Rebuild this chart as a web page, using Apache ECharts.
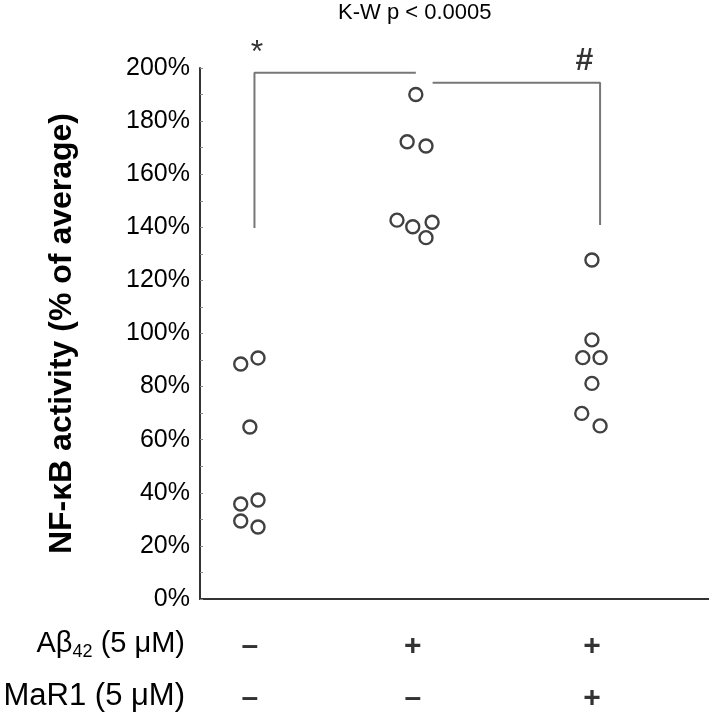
<!DOCTYPE html>
<html>
<head>
<meta charset="utf-8">
<script src="https://cdn.jsdelivr.net/npm/echarts@6/dist/echarts.min.js"></script>
<style>html,body{margin:0;padding:0;background:#fff}#c{width:709px;height:718px}</style>
</head>
<body>
<div id="c"></div>
<script>
// Data (y in % of average; x = jittered horizontal position on a 0-10 scale)
const group1X = [0.80, 1.14, 0.98, 0.80, 1.14, 0.80, 1.14];
const group1Y = [88.5, 90.8, 64.8, 35.8, 37.3, 29.4, 27.1];
const group2X = [4.24, 4.07, 4.44, 3.87, 4.18, 4.56, 4.44];
const group2Y = [190.0, 172.2, 170.6, 142.7, 140.2, 141.9, 136.1];
const group3X = [7.70, 7.70, 7.52, 7.86, 7.70, 7.50, 7.86];
const group3Y = [127.7, 97.6, 90.9, 90.9, 81.2, 69.9, 65.2];
const groupCenters = [0.98, 4.18, 7.70];
const abetaRow = ['–', '+', '+'];
const mar1Row = ['–', '–', '+'];
const yTicks = [0, 20, 40, 60, 80, 100, 120, 140, 160, 180, 200];
const bracketLeft = [[1.07, 139.7], [1.07, 198.2], [4.24, 198.2]];
const bracketRight = [[4.57, 194.4], [7.86, 194.4], [7.86, 140.9]];
const marks = [{x: 1.12, y: 205.5, t: '*', w: 'normal'}, {x: 7.55, y: 202.5, t: '#', w: 'bold'}];

const font = 'Liberation Sans, Arial, sans-serif';
const chart = echarts.init(document.getElementById('c'));
const zip = (xs, ys) => xs.map((x, i) => [x, ys[i]]);

const option = {
  animation: false,
  grid: {left: 200, right: 0, top: 68, bottom: 119, containLabel: false},
  xAxis: {
    type: 'value', min: 0, max: 10,
    axisLine: {show: true, onZero: false, lineStyle: {color: '#333', width: 2}},
    axisTick: {show: false}, axisLabel: {show: false}, splitLine: {show: false}
  },
  yAxis: {
    type: 'value', min: 0, max: 200, interval: 20,
    name: 'NF-κB activity (% of average)',
    nameLocation: 'middle', nameGap: 122, nameRotate: 90,
    nameTextStyle: {fontFamily: font, fontWeight: 'bold', fontSize: 32, color: '#000'},
    axisLine: {show: true, lineStyle: {color: '#333', width: 2}},
    axisTick: {show: true, inside: true, length: 3, lineStyle: {color: '#888', width: 1}},
    minorTick: {show: true, splitNumber: 2, length: 3, lineStyle: {color: '#888', width: 1}},
    axisLabel: {fontFamily: font, fontSize: 25, color: '#000', margin: 10, formatter: v => yTicks.includes(v) ? v + '%' : ''},
    splitLine: {show: false}
  },
  series: [
    {type: 'line', data: bracketLeft, symbol: 'none', lineStyle: {color: '#777', width: 2}, clip: false, z: 1},
    {type: 'line', data: bracketRight, symbol: 'none', lineStyle: {color: '#777', width: 2}, clip: false, z: 1},
    ...[zip(group1X, group1Y), zip(group2X, group2Y), zip(group3X, group3Y)].map(d => ({
      type: 'scatter', data: d, symbol: 'circle', symbolSize: 13, clip: false,
      itemStyle: {color: '#fff', borderColor: '#111', borderWidth: 2.4}, z: 3
    })),
    {
      type: 'scatter', symbolSize: 0, clip: false, silent: true,
      data: marks.map(m => ({value: [m.x, m.y], label: {formatter: m.t, fontWeight: m.w}})),
      label: {show: true, position: 'inside', fontFamily: font, fontSize: 32, color: '#000'}
    },
    {
      type: 'scatter', symbolSize: 0, clip: false, silent: true,
      data: groupCenters.map((c, i) => ({value: [c, -18], label: {formatter: abetaRow[i]}}))
        .concat(groupCenters.map((c, i) => ({value: [c, -37.5], label: {formatter: mar1Row[i]}}))),
      label: {show: true, position: 'inside', fontFamily: font, fontSize: 30, fontWeight: 'bold', color: '#000'}
    }
  ],
  graphic: [
    {type: 'text', left: 338, top: 2, style: {text: 'K-W p < 0.0005', font: '22px ' + font, fill: '#000'}},
    {type: 'text', right: 524, top: 629, style: {text: '{a|Aβ}{s|42}{a| (5 μM)}', rich: {a: {fontFamily: font, fontSize: 29, fill: '#000'}, s: {fontFamily: font, fontSize: 18, fill: '#000', padding: [18, 0, 0, 0]}}}},
    {type: 'text', right: 524, top: 681, style: {text: 'MaR1 (5 μM)', font: '31px ' + font, fill: '#000'}}
  ]
};
chart.setOption(option);
</script>
</body>
</html>
